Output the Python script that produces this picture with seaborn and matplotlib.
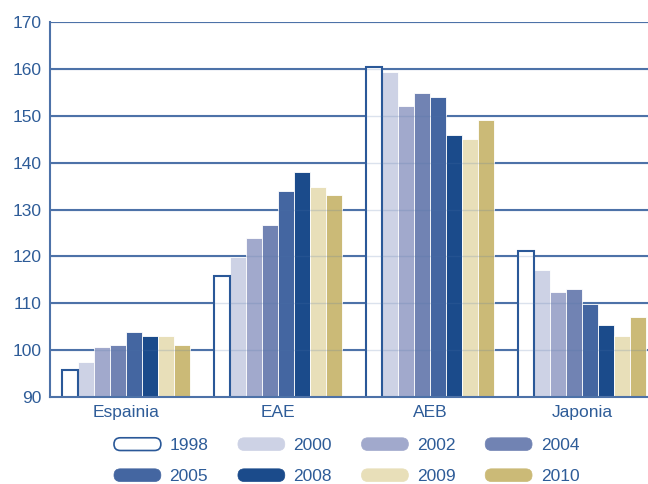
import matplotlib
matplotlib.use("Agg")
import matplotlib.pyplot as plt
import seaborn as sns
import pandas as pd
from matplotlib.patches import Patch, FancyBboxPatch
from matplotlib.legend_handler import HandlerPatch
from matplotlib.ticker import FixedLocator, MultipleLocator

regions = ["Espainia", "EAE", "AEB", "Japonia"]
years = ["1998", "2000", "2002", "2004", "2005", "2008", "2009", "2010"]
v1998 = [95.8, 115.9, 160.5, 121.2]
v2000 = [97.5, 119.9, 159.4, 117.1]
v2002 = [100.7, 123.9, 152.1, 112.5]
v2004 = [101.2, 126.6, 154.9, 113.0]
v2005 = [103.9, 133.9, 154.0, 109.8]
v2008 = [103.0, 138.0, 145.8, 105.3]
v2009 = [103.0, 134.8, 145.0, 103.0]
v2010 = [101.2, 133.0, 149.0, 107.1]
series = [v1998, v2000, v2002, v2004, v2005, v2008, v2009, v2010]

colors = ["#ffffff", "#cdd2e5", "#a1a9cc", "#7183b3", "#4466a1", "#1b4b8b", "#e8dfb9", "#cbba77"]
text_col = "#2e5c98"
line_col = "#4d72a8"
edge_1998 = "#2a5898"

rows = []
for y, vals in zip(years, series):
    for r, v in zip(regions, vals):
        rows.append({"region": r, "year": y, "value": v})
df = pd.DataFrame(rows)

sns.set_style("white")
plt.rcParams["font.family"] = ["Liberation Sans", "DejaVu Sans"]

fig = plt.figure(figsize=(6.48, 4.84), dpi=100)
ax = fig.add_axes([50/648, 1-397/484, 608/648, 375/484])

sns.barplot(data=df, x="region", y="value", hue="year", palette=colors,
            width=0.84, saturation=1, ax=ax, legend=False,
            edgecolor="white", linewidth=0.6, zorder=2)

for bar in ax.containers[0]:
    bar.set_facecolor("white")
    bar.set_edgecolor(edge_1998)
    bar.set_linewidth(1.5)
    bar.set_zorder(3)

ax.set_ylim(90, 170)
ax.set_xlim(-0.5, 3.5)
ax.yaxis.set_major_locator(MultipleLocator(10))
ax.set_xlabel("")
ax.set_ylabel("")

# grid lines: solid behind, faint over bars
for t in ax.get_yticks():
    if 90 < t <= 170:
        ax.axhline(t, color=line_col, lw=1.5, zorder=1)
        ax.axhline(t, color=line_col, lw=1.0, alpha=0.2, zorder=4)

for s in ["top", "right"]:
    ax.spines[s].set_visible(False)
for s in ["left", "bottom"]:
    ax.spines[s].set_color(line_col)
    ax.spines[s].set_linewidth(1.5)
    ax.spines[s].set_zorder(5)

ax.tick_params(axis="y", length=0, labelsize=12.5, labelcolor=text_col, pad=6)
ax.tick_params(axis="x", which="major", length=0, labelsize=12.5, labelcolor=text_col, pad=6)
ax.xaxis.set_minor_locator(FixedLocator([-0.5, 0.5, 1.5, 2.5]))
ax.tick_params(axis="x", which="minor", length=6, width=1.5, color=line_col, direction="out")


class PillHandler(HandlerPatch):
    def create_artists(self, legend, orig_handle, xdescent, ydescent, width, height, fontsize, trans):
        p = FancyBboxPatch((-xdescent, -ydescent), width, height,
                           boxstyle=f"round,pad=0,rounding_size={height/2}",
                           facecolor=orig_handle.get_facecolor(),
                           edgecolor=orig_handle.get_edgecolor(),
                           linewidth=orig_handle.get_linewidth(), transform=trans)
        return [p]


handles = []
for y, c in zip(years, colors):
    if y == "1998":
        handles.append(Patch(facecolor="white", edgecolor=edge_1998, linewidth=1.2))
    else:
        handles.append(Patch(facecolor=c, edgecolor=c, linewidth=0.5))

# legend fills column-first; reorder so it reads row by row
order = [0, 4, 1, 5, 2, 6, 3, 7]
leg = fig.legend([handles[i] for i in order], [years[i] for i in order],
                 ncol=4, loc="center", bbox_to_anchor=(0.535, 0.0475),
                 frameon=False, fontsize=12.5, handlelength=2.7, handleheight=0.75,
                 handletextpad=0.5, columnspacing=1.7, labelspacing=0.9, borderpad=0,
                 handler_map={Patch: PillHandler()})
for t in leg.get_texts():
    t.set_color(text_col)

fig.savefig("out.png", dpi=100)
